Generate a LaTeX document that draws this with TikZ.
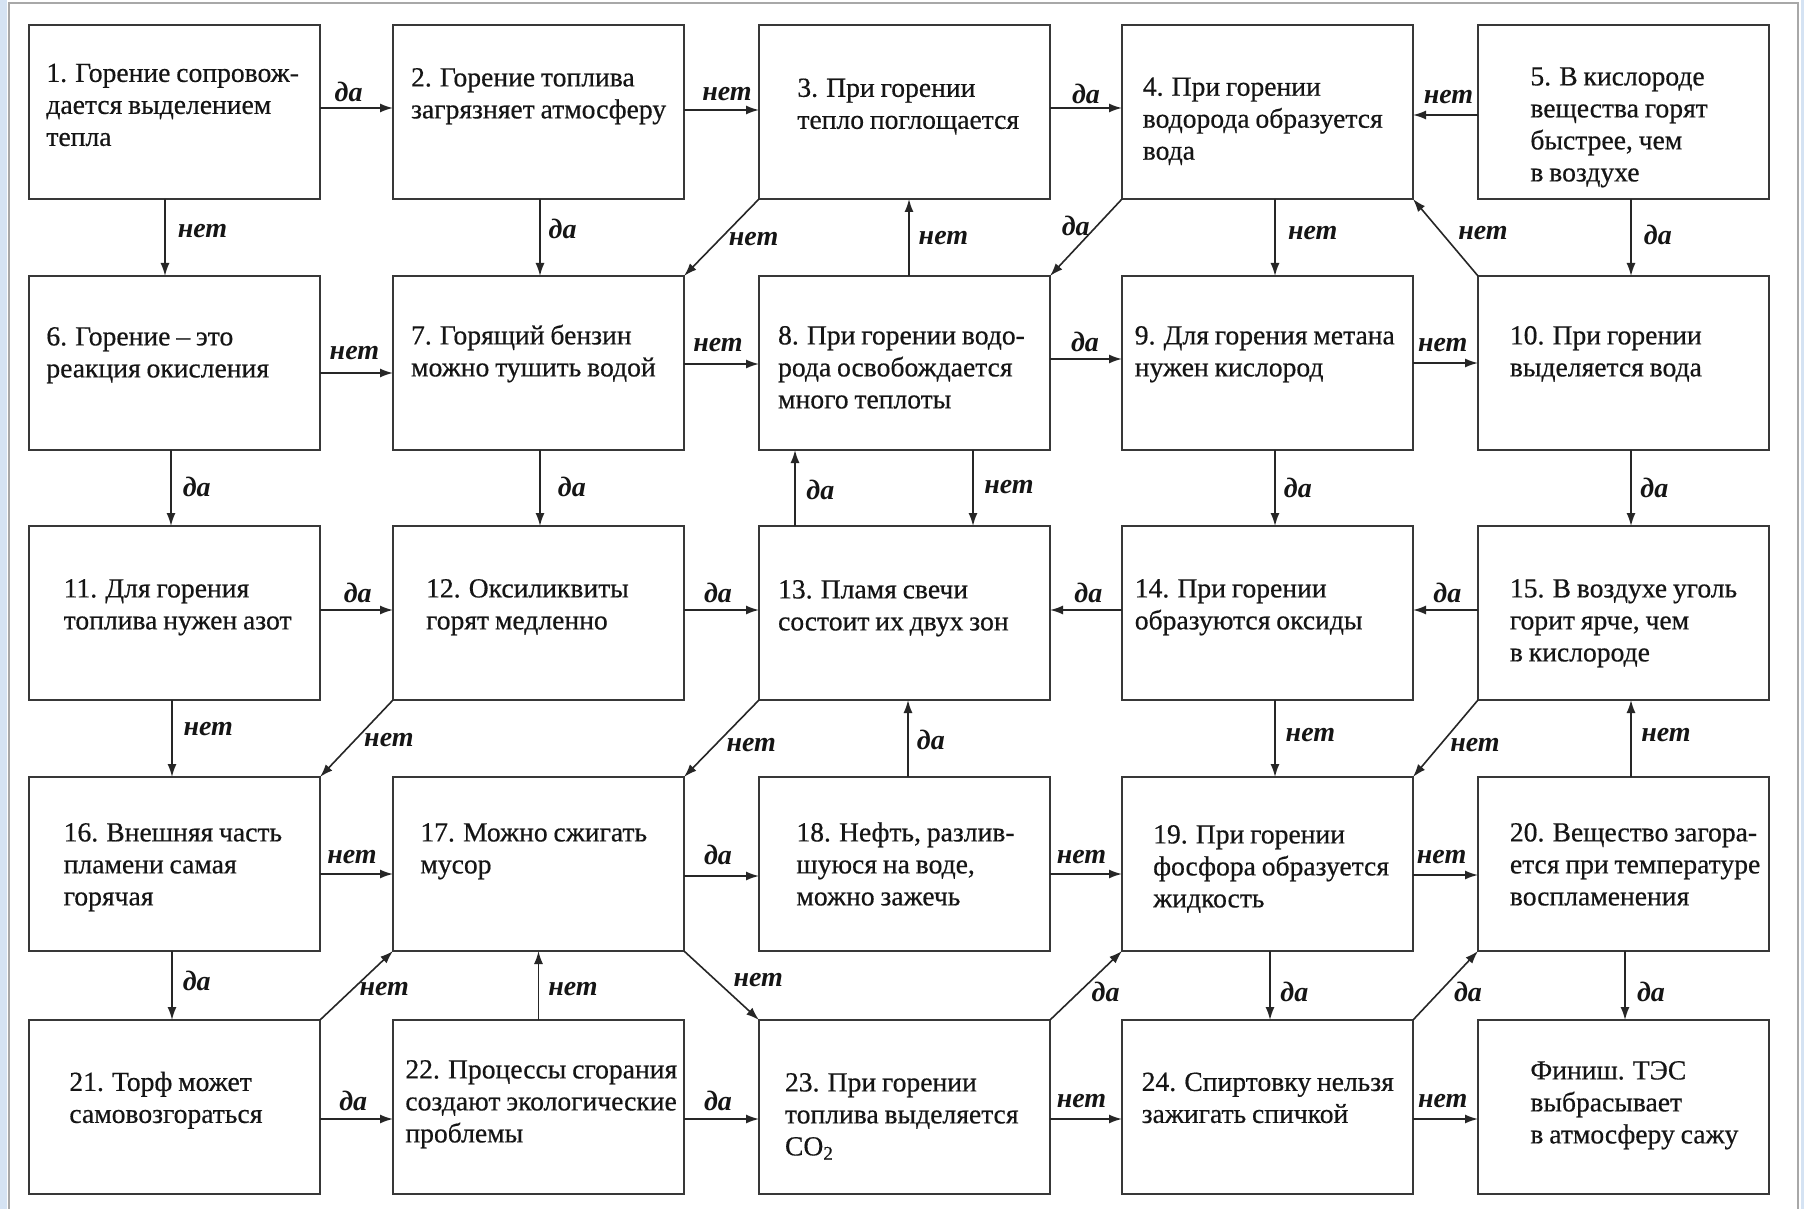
\documentclass[tikz,border=0pt]{standalone}
\usepackage{fontspec}
\setmainfont{Liberation Serif}
\newfontfamily\boxfont{Liberation Serif}[FakeBold=0.5,WordSpace=0.85]
\usetikzlibrary{arrows.meta,calc}
\definecolor{boxline}{HTML}{383838}
\definecolor{framegray}{HTML}{A8A8A8}
\definecolor{stripblue}{HTML}{D5E3F3}
\definecolor{ink}{HTML}{151515}
\newcommand\fst{\rule{0pt}{11pt}}
\begin{document}
\begin{tikzpicture}[x=0.5pt,y=-0.5pt,
  box/.style={draw=boxline, line width=1pt, minimum width=145.5pt, minimum height=87pt, inner sep=0pt, outer sep=0pt},
  txt/.style={anchor=north west, inner sep=0pt, align=left, text=ink, font=\boxfont\fontsize{13.8}{16}\selectfont},
  lbl/.style={inner sep=0pt, text=ink, font=\fontsize{14}{16}\selectfont\bfseries\itshape},
  arr/.style={draw=black!85, line width=0.8pt, -{Latex[length=6.5pt,width=4.5pt]}}]
\useasboundingbox (0,0) rectangle (1804,1209);
\fill[white] (0,0) rectangle (1804,1209);
\fill[stripblue] (0,0) rectangle (7,1209);
\fill[stripblue] (1801,0) rectangle (1804,1209);
\draw[framegray, line width=1pt] (8.5,1209) -- (8.5,3.5) -- (1797.5,3.5) -- (1797.5,1209);

% boxes
\node[box] (b1) at (174.5,112) {};
\node[box] (b2) at (538.5,112) {};
\node[box] (b3) at (904.5,112) {};
\node[box] (b4) at (1267.5,112) {};
\node[box] (b5) at (1623.5,112) {};
\node[box] (b6) at (174.5,363) {};
\node[box] (b7) at (538.5,363) {};
\node[box] (b8) at (904.5,363) {};
\node[box] (b9) at (1267.5,363) {};
\node[box] (b10) at (1623.5,363) {};
\node[box] (b11) at (174.5,613) {};
\node[box] (b12) at (538.5,613) {};
\node[box] (b13) at (904.5,613) {};
\node[box] (b14) at (1267.5,613) {};
\node[box] (b15) at (1623.5,613) {};
\node[box] (b16) at (174.5,864) {};
\node[box] (b17) at (538.5,864) {};
\node[box] (b18) at (904.5,864) {};
\node[box] (b19) at (1267.5,864) {};
\node[box] (b20) at (1623.5,864) {};
\node[box] (b21) at (174.5,1107) {};
\node[box] (b22) at (538.5,1107) {};
\node[box] (b23) at (904.5,1107) {};
\node[box] (b24) at (1267.5,1107) {};
\node[box] (bF) at (1623.5,1107) {};

% texts
\node[txt] (t1) at (46,59.5) {\fst 1. Горение сопровож-\\дается выделением\\тепла};
\node[txt] (t2) at (410.7,64) {\fst 2. Горение топлива\\загрязняет атмосферу};
\node[txt] (t3) at (797,74.4) {\fst 3. При горении\\тепло поглощается};
\node[txt] (t4) at (1142.4,73.3) {\fst 4. При горении\\водорода образуется\\вода};
\node[txt] (t5) at (1530,63) {\fst 5. В кислороде\\вещества горят\\быстрее, чем\\в воздухе};
\node[txt] (t6) at (46,323) {\fst 6. Горение – это\\реакция окисления};
\node[txt] (t7) at (410.7,322) {\fst 7. Горящий бензин\\можно тушить водой};
\node[txt] (t8) at (777.7,322) {\fst 8. При горении водо-\\рода освобождается\\много теплоты};
\node[txt] (t9) at (1134.4,322) {\fst 9. Для горения метана\\нужен кислород};
\node[txt] (t10) at (1509.5,322) {\fst 10. При горении\\выделяется вода};
\node[txt] (t11) at (63.3,575) {\fst 11. Для горения\\топлива нужен азот};
\node[txt] (t12) at (425.7,575) {\fst 12. Оксиликвиты\\горят медленно};
\node[txt] (t13) at (777.7,576) {\fst 13. Пламя свечи\\состоит их двух зон};
\node[txt] (t14) at (1134.4,575) {\fst 14. При горении\\образуются оксиды};
\node[txt] (t15) at (1509.5,575) {\fst 15. В воздухе уголь\\горит ярче, чем\\в кислороде};
\node[txt] (t16) at (63.3,819) {\fst 16. Внешняя часть\\пламени самая\\горячая};
\node[txt] (t17) at (420,819) {\fst 17. Можно сжигать\\мусор};
\node[txt] (t18) at (796,819) {\fst 18. Нефть, разлив-\\шуюся на воде,\\можно зажечь};
\node[txt] (t19) at (1152.8,821) {\fst 19. При горении\\фосфора образуется\\жидкость};
\node[txt] (t20) at (1509.5,819) {\fst 20. Вещество загора-\\ется при температуре\\воспламенения};
\node[txt] (t21) at (69,1068.5) {\fst 21. Торф может\\самовозгораться};
\node[txt] (t22) at (405,1056) {\fst 22. Процессы сгорания\\создают экологические\\проблемы};
\node[txt] (t23) at (784.6,1069) {\fst 23. При горении\\топлива выделяется\\CO\textsubscript{2}};
\node[txt] (t24) at (1141.3,1068.5) {\fst 24. Спиртовку нельзя\\зажигать спичкой};
\node[txt] (tF) at (1530,1057) {\fst Финиш. ТЭС\\выбрасывает\\в атмосферу сажу};

% row 1 horizontal
\draw[arr] ($(b1.east)+(0,-4)$) -- ($(b2.west)+(0,-4)$);
\draw[arr] ($(b2.east)+(0,-2)$) -- ($(b3.west)+(0,-2)$);
\draw[arr] ($(b3.east)+(0,-4)$) -- ($(b4.west)+(0,-4)$);
\draw[arr] ($(b5.west)+(0,3)$) -- ($(b4.east)+(0,3)$);
% row1-row2
\draw[arr] ($(b1.south)+(-9.5,0)$) -- ($(b6.north)+(-9.5,0)$);
\draw[arr] ($(b2.south)+(1.5,0)$) -- ($(b7.north)+(1.5,0)$);
\draw[arr] (b3.south west) -- (b7.north east);
\draw[arr] ($(b8.north)+(4.5,0)$) -- ($(b3.south)+(4.5,0)$);
\draw[arr] (b4.south west) -- (b8.north east);
\draw[arr] ($(b4.south)+(7.5,0)$) -- ($(b9.north)+(7.5,0)$);
\draw[arr] (b10.north west) -- (b4.south east);
\draw[arr] ($(b5.south)+(7.5,0)$) -- ($(b10.north)+(7.5,0)$);
% row 2 horizontal
\draw[arr] ($(b6.east)+(0,10)$) -- ($(b7.west)+(0,10)$);
\draw[arr] ($(b7.east)+(0,1)$) -- ($(b8.west)+(0,1)$);
\draw[arr] ($(b8.east)+(0,-4)$) -- ($(b9.west)+(0,-4)$);
\draw[arr] ($(b9.east)+(0,0)$) -- ($(b10.west)+(0,0)$);
% row2-row3
\draw[arr] ($(b6.south)+(-3.5,0)$) -- ($(b11.north)+(-3.5,0)$);
\draw[arr] ($(b7.south)+(1.5,0)$) -- ($(b12.north)+(1.5,0)$);
\draw[arr] ($(b13.north)+(-109.5,0)$) -- ($(b8.south)+(-109.5,0)$);
\draw[arr] ($(b8.south)+(68.5,0)$) -- ($(b13.north)+(68.5,0)$);
\draw[arr] ($(b9.south)+(7.5,0)$) -- ($(b14.north)+(7.5,0)$);
\draw[arr] ($(b10.south)+(7.5,0)$) -- ($(b15.north)+(7.5,0)$);
% row 3 horizontal
\draw[arr] ($(b11.east)+(0,-3)$) -- ($(b12.west)+(0,-3)$);
\draw[arr] ($(b12.east)+(0,-3)$) -- ($(b13.west)+(0,-3)$);
\draw[arr] ($(b14.west)+(0,-3)$) -- ($(b13.east)+(0,-3)$);
\draw[arr] ($(b15.west)+(0,-3)$) -- ($(b14.east)+(0,-3)$);
% row3-row4
\draw[arr] ($(b11.south)+(-2.5,0)$) -- ($(b16.north)+(-2.5,0)$);
\draw[arr] (b12.south west) -- (b16.north east);
\draw[arr] (b13.south west) -- (b17.north east);
\draw[arr] ($(b18.north)+(3.5,0)$) -- ($(b13.south)+(3.5,0)$);
\draw[arr] ($(b14.south)+(7.5,0)$) -- ($(b19.north)+(7.5,0)$);
\draw[arr] (b15.south west) -- (b19.north east);
\draw[arr] ($(b20.north)+(7.5,0)$) -- ($(b15.south)+(7.5,0)$);
% row 4 horizontal
\draw[arr] ($(b16.east)+(0,10)$) -- ($(b17.west)+(0,10)$);
\draw[arr] ($(b17.east)+(0,12)$) -- ($(b18.west)+(0,12)$);
\draw[arr] ($(b18.east)+(0,10)$) -- ($(b19.west)+(0,10)$);
\draw[arr] ($(b19.east)+(0,11)$) -- ($(b20.west)+(0,11)$);
% row4-row5
\draw[arr] ($(b16.south)+(-2.5,0)$) -- ($(b21.north)+(-2.5,0)$);
\draw[arr] (b21.north east) -- (b17.south west);
\draw[arr] ($(b22.north)+(0,0)$) -- ($(b17.south)+(0,0)$);
\draw[arr] (b17.south east) -- (b23.north west);
\draw[arr] (b23.north east) -- (b19.south west);
\draw[arr] ($(b19.south)+(2.5,0)$) -- ($(b24.north)+(2.5,0)$);
\draw[arr] (b24.north east) -- (b20.south west);
\draw[arr] ($(b20.south)+(1.5,0)$) -- ($(bF.north)+(1.5,0)$);
% row 5 horizontal
\draw[arr] ($(b21.east)+(0,12)$) -- ($(b22.west)+(0,12)$);
\draw[arr] ($(b22.east)+(0,12)$) -- ($(b23.west)+(0,12)$);
\draw[arr] ($(b23.east)+(0,12)$) -- ($(b24.west)+(0,12)$);
\draw[arr] ($(b24.east)+(0,12)$) -- ($(bF.west)+(0,12)$);

% labels
\node[lbl] (l1) at (348.6,92) {да};
\node[lbl] (l2) at (727,94.3) {нет};
\node[lbl] (l3) at (1086,94.3) {да};
\node[lbl] (l4) at (1448.5,96.6) {нет};
\node[lbl] (l5) at (202.5,231) {нет};
\node[lbl] (l6) at (562.6,229) {да};
\node[lbl] (l7) at (753.6,239.3) {нет};
\node[lbl] (l8) at (943.4,238) {нет};
\node[lbl] (l9) at (1075.7,225.5) {да};
\node[lbl] (l10) at (1312.7,233.5) {нет};
\node[lbl] (l11) at (1483,233.5) {нет};
\node[lbl] (l12) at (1657.9,234.7) {да};
\node[lbl] (l13) at (354.4,353.2) {нет};
\node[lbl] (l14) at (718,345) {нет};
\node[lbl] (l15) at (1085,341.7) {да};
\node[lbl] (l16) at (1442.7,345) {нет};
\node[lbl] (l17) at (196.7,486.7) {да};
\node[lbl] (l18) at (571.8,486.7) {да};
\node[lbl] (l19) at (820.3,490) {да};
\node[lbl] (l20) at (1009,486.7) {нет};
\node[lbl] (l21) at (1297.8,487.8) {да};
\node[lbl] (l22) at (1654.4,487.8) {да};
\node[lbl] (l23) at (357.8,592.5) {да};
\node[lbl] (l24) at (718,592.5) {да};
\node[lbl] (l25) at (1088.4,592.5) {да};
\node[lbl] (l26) at (1447.3,592.5) {да};
\node[lbl] (l27) at (208.2,729.4) {нет};
\node[lbl] (l28) at (388.9,739.8) {нет};
\node[lbl] (l29) at (751.3,745.5) {нет};
\node[lbl] (l30) at (930.8,739.8) {да};
\node[lbl] (l31) at (1310.4,735.2) {нет};
\node[lbl] (l32) at (1475,745.5) {нет};
\node[lbl] (l33) at (1666,735.2) {нет};
\node[lbl] (l34) at (352,857) {нет};
\node[lbl] (l35) at (718,854.8) {да};
\node[lbl] (l36) at (1081.5,857) {нет};
\node[lbl] (l37) at (1441.6,857) {нет};
\node[lbl] (l38) at (196.7,981.4) {да};
\node[lbl] (l39) at (384.3,989.4) {нет};
\node[lbl] (l40) at (573,989.4) {нет};
\node[lbl] (l41) at (758.2,980.2) {нет};
\node[lbl] (l42) at (1105.6,991.7) {да};
\node[lbl] (l43) at (1294.3,991.7) {да};
\node[lbl] (l44) at (1468,991.7) {да};
\node[lbl] (l45) at (1651,991.7) {да};
\node[lbl] (l46) at (353.2,1101) {да};
\node[lbl] (l47) at (718,1101) {да};
\node[lbl] (l48) at (1081.5,1101) {нет};
\node[lbl] (l49) at (1442.7,1101) {нет};
\end{tikzpicture}
\end{document}
